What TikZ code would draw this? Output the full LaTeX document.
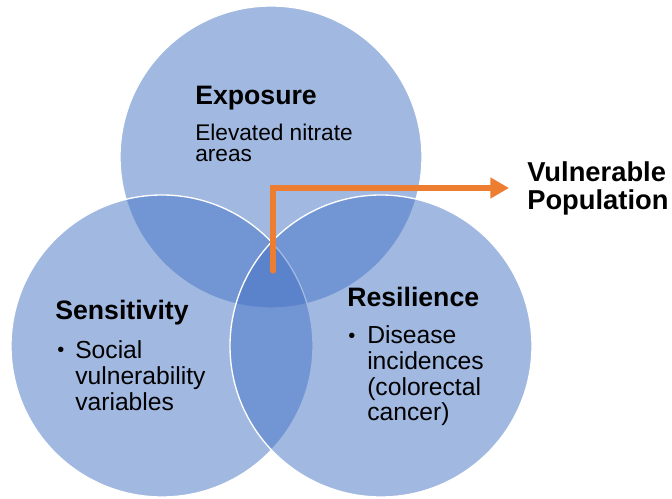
\documentclass[tikz,border=0pt]{standalone}
\usepackage{fontspec}
\setmainfont{Liberation Sans}
\usetikzlibrary{arrows.meta,positioning}
\definecolor{VennBlue}{RGB}{68,114,196}
\definecolor{FlowOrange}{RGB}{237,125,49}

\tikzset{
  venn/.style={fill=VennBlue,fill opacity=.5,draw=white,line width=1pt},
  heading/.style={anchor=base west,inner sep=0pt,font=\bfseries\fontsize{20}{24}\selectfont},
  % base of a multi-line node sits on its last line
  body/.style={anchor=base west,inner sep=0pt,align=left,font=\fontsize{18.5}{19.4}\selectfont},
  flow/.style={draw=FlowOrange,line width=4pt,line cap=round,
    -{Triangle[length=14pt,width=15pt]}},
}

\begin{document}
\begin{tikzpicture}[x=0.75pt,y=-0.75pt]
  \useasboundingbox (0,0) rectangle (672,499);

  % the three sets
  \path[venn] (271,157) circle (151);
  \path[venn] (162,346) circle (151);
  \path[venn] (381,346) circle (151);

  % exposure
  \node[heading] (expo) at (195,105) {Exposure};
  \node[body,font=\fontsize{17}{16}\selectfont] (expotxt) at (195,162)
    {Elevated nitrate\\areas};

  % sensitivity
  \node[heading] (sens) at (55,320) {Sensitivity};
  \node[body,font=\fontsize{15}{16}\selectfont] (sensdot) at (57,357) {•};
  \node[body] (senstxt) at (75,410) {Social\\vulnerability\\variables};

  % resilience
  \node[heading] (resil) at (347,307) {Resilience};
  \node[body,font=\fontsize{15}{16}\selectfont] (resildot) at (348,343) {•};
  \node[body] (resiltxt) at (367,421) {Disease\\incidences\\(colorectal\\cancer)};

  % overlap leads to the outcome
  \node[anchor=west,inner sep=0pt,align=left,font=\bfseries\fontsize{20.5}{21}\selectfont]
    (vuln) at (527,188) {Vulnerable\\Population};
  \coordinate (stem) at (273,271);
  \draw[flow,shorten >=13.5pt] (stem) |- (vuln.west);
\end{tikzpicture}
\end{document}
